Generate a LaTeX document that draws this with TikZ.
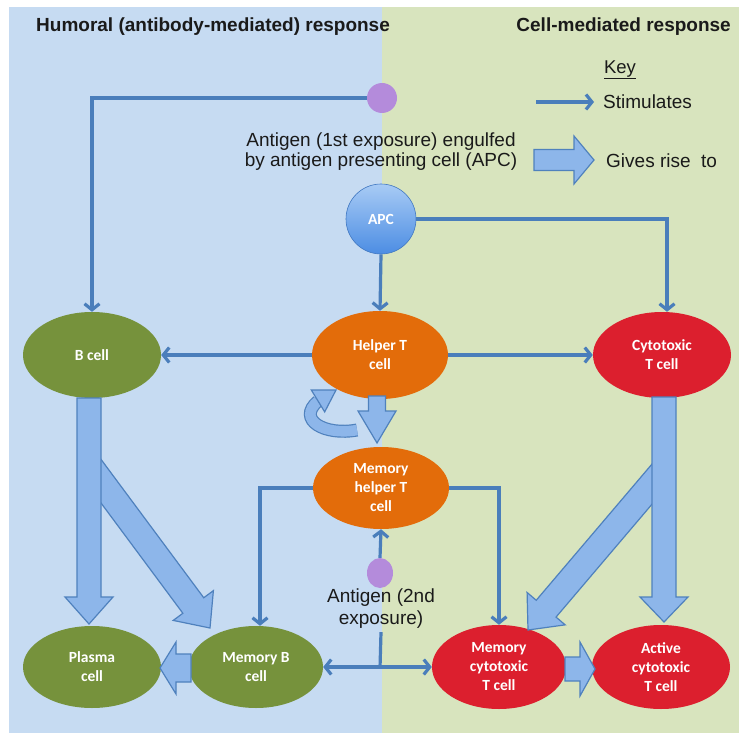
\documentclass[tikz,border=0pt]{standalone}
\usepackage{fontspec}
\setmainfont{Liberation Sans}
\newfontfamily\cellfont{Carlito}
\usetikzlibrary{calc,arrows.meta,shapes.geometric}
\definecolor{bluebg}{HTML}{C6DBF2}
\definecolor{greenbg}{HTML}{D8E4BE}
\definecolor{cgreen}{HTML}{76923C}
\definecolor{corange}{HTML}{E36C0A}
\definecolor{cred}{HTML}{DC1F2E}
\definecolor{cline}{HTML}{4A7EBB}
\definecolor{afill}{HTML}{8DB6EA}
\definecolor{aedge}{HTML}{4F81BD}
\definecolor{cpurple}{HTML}{B48BDB}
\definecolor{apclight}{HTML}{A8CBF5}
\definecolor{apcdark}{HTML}{4C8DE3}
\definecolor{txt}{HTML}{1A1A1A}

\newcommand\blockarrow[5]{%
  \coordinate (baS) at (#1);
  \coordinate (baE) at (#2);
  \coordinate (baH) at ($(baE)!#5!(baS)$);
  \filldraw[barrow] ($(baS)!#3!90:(baE)$) -- ($(baH)!#3!90:(baE)$) -- ($(baH)!#4!90:(baE)$) -- (baE) -- ($(baH)!#4!-90:(baE)$) -- ($(baH)!#3!-90:(baE)$) -- ($(baS)!#3!-90:(baE)$) -- cycle;}

\begin{document}
\begin{tikzpicture}[x=1pt,y=-1pt,
  cell/.style={ellipse, inner sep=0pt, text=white, font=\cellfont\bfseries\fontsize{15.5}{19}\selectfont, align=center},
  tip/.style={Straight Barb[length=6pt,width=15pt]},
  conn/.style={draw=cline, line width=3.2pt, -{Straight Barb[length=6pt,width=15pt]}},
  barrow/.style={fill=afill, draw=aedge, line width=1.2pt, line join=miter},
  lbl/.style={font=\fontsize{19}{20}\selectfont, text=txt, align=center, inner sep=0pt},
  ttl/.style={font=\bfseries\fontsize{19}{22}\selectfont, text=txt, inner sep=0pt}
 ]
\useasboundingbox (0,0) rectangle (744,738);
\fill[white] (0,0) rectangle (744,738);
\fill[bluebg] (9,7) rectangle (382,733);
\fill[greenbg] (382,7) rectangle (739,733);

% titles and key
\node[ttl, anchor=west] (t1) at (36,27) {Humoral (antibody-mediated) response};
\node[ttl, anchor=east] (t2) at (731,27) {Cell-mediated response};
\node[lbl, font=\fontsize{18.5}{20}\selectfont] (key) at (620,70) {\underline{Key}};
\coordinate (k1s) at (536,102);
\coordinate (k1e) at (594,102);
\draw[conn] (k1s) -- (k1e);
\node[lbl, anchor=west] (stim) at (603,102) {Stimulates};
\blockarrow{534,160}{594,160}{10.5pt}{24pt}{20pt}
\node[lbl, anchor=west] (gives) at (606,161) {Gives rise\ \ to};

% cells
\node[cell, fill=cgreen, minimum width=138pt, minimum height=86pt] (bcell) at (92,355) {B cell};
\node[cell, fill=corange, minimum width=136pt, minimum height=88pt] (helper) at (380,355) {Helper T\\cell};
\node[cell, fill=cred, minimum width=138pt, minimum height=86pt] (cyto) at (662,355) {Cytotoxic\\T cell};
\node[cell, fill=corange, minimum width=136pt, minimum height=82pt] (memhelper) at (381,488) {Memory\\helper T\\cell};
\node[cell, fill=cgreen, minimum width=138pt, minimum height=82pt] (plasma) at (92,667) {Plasma\\cell};
\node[cell, fill=cgreen, minimum width=134pt, minimum height=82pt] (memb) at (256,667) {Memory B\\cell};
\node[cell, fill=cred, minimum width=134pt, minimum height=84pt] (memcyto) at (499,667) {Memory\\cytotoxic\\T cell};
\node[cell, fill=cred, minimum width=138pt, minimum height=84pt] (active) at (661,667) {Active\\cytotoxic\\T cell};
\node[circle, minimum size=70pt, inner sep=0pt, top color=apclight, bottom color=apcdark, draw=apcdark!85!black, line width=0.6pt, text=white, font=\cellfont\bfseries\fontsize{15.5}{19}\selectfont] (apc) at (381,219) {APC};

% antigens
\node[circle, fill=cpurple, minimum size=30pt, inner sep=0pt] (ag1) at (382,98) {};
\node[ellipse, fill=cpurple, minimum width=26pt, minimum height=30pt, inner sep=0pt] (ag2) at (380,573) {};
\node[lbl] (ag1txt) at (381,152) {Antigen (1st exposure) engulfed\\by antigen presenting cell (APC)};
\node[lbl, font=\fontsize{19}{22}\selectfont] (ag2txt) at (381,609) {Antigen (2nd\\exposure)};

% thin connectors
\draw[conn] (ag1.west) -| (bcell.north);
\draw[conn] (apc.east) -| ([xshift=5pt]cyto.north);
\draw[conn] (apc.south) -- (helper.north);
\draw[conn] (helper.west) -- (bcell.east);
\draw[conn] (helper.east) -- (cyto.west);
\draw[conn] (memhelper.west) -| ([xshift=4pt]memb.north);
\draw[conn] (memhelper.east) -| (memcyto.north);
\draw[conn] (ag2.north) -- (memhelper.south);
\draw[conn, {Straight Barb[length=6pt,width=15pt]}-{Straight Barb[length=6pt,width=15pt]}] (memb.east) -- (memcyto.west);
\coordinate (vline) at (380,668);
\draw[draw=cline, line width=3.2pt] ([yshift=-3pt]ag2txt.south) -- (vline);

% block arrows
\blockarrow{89,465}{210,628}{13pt}{25pt}{28pt}
\blockarrow{89,398}{89,624}{12pt}{24pt}{27pt}
\blockarrow{664,470}{528,630}{13pt}{25pt}{28pt}
\blockarrow{664,397}{664,622}{12pt}{24pt}{25pt}
\blockarrow{377,396}{377,443}{8.5pt}{19pt}{32pt}
\blockarrow{191,668}{160,668}{14pt}{26pt}{16pt}
\blockarrow{565,669}{595,669}{12pt}{27pt}{15pt}

% self loop
\draw[aedge, line width=13pt] (357,430) .. controls (325,436) and (296,420) .. (318,401);
\draw[afill, line width=10.6pt] (357,430) .. controls (325,436) and (296,420) .. (318,401);
\filldraw[barrow] (311.3,390.0) -- (336,390) -- (324.7,411.9) -- cycle;
\end{tikzpicture}
\end{document}
